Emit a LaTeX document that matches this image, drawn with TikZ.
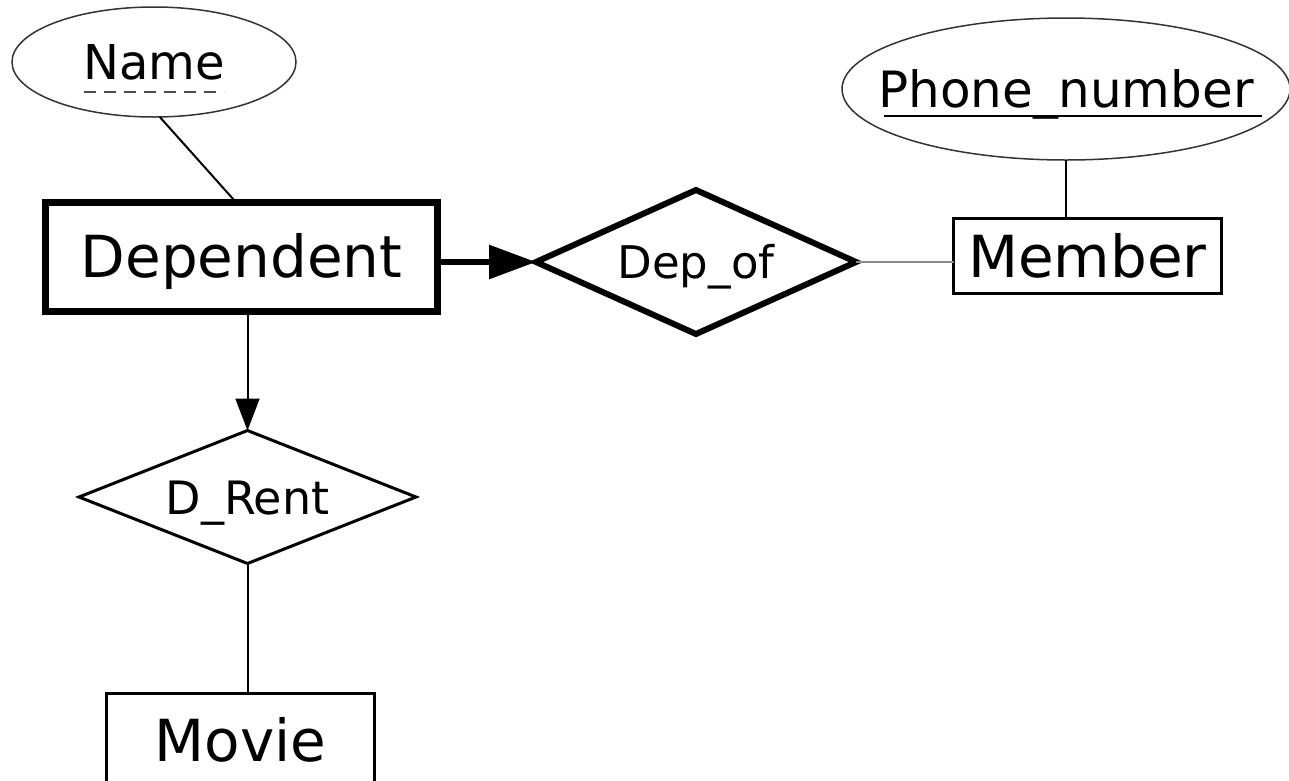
\documentclass[tikz,border=0pt]{standalone}
\usepackage{fontspec}
\setmainfont{DejaVu Sans}
\usetikzlibrary{shapes.geometric, arrows.meta, positioning}
\tikzset{
    every node/.style={inner sep=0pt, outer sep=0pt}, % shapes are sized by hand
    entity/.style={draw, rectangle, line width=3pt, font=\fontsize{58}{60}\selectfont, text height=42pt, text depth=0pt}, % plain entity set
    weakentity/.style={entity, line width=7pt}, % weak entity set, heavy border
    relation/.style={draw, diamond, aspect=2.2, line width=3pt, text depth=0pt}, % relationship set
    idrelation/.style={relation, line width=6pt}, % identifying relationship
    attribute/.style={draw=black!80, ellipse, line width=1.5pt, text depth=0pt}, % attribute
    link/.style={line width=2pt}, % plain connector
    toone/.style={link, -{Triangle[length=32pt, width=24pt]}}, % many-to-one arrow
}

\begin{document}
\begin{tikzpicture}[x=1pt, y=-1pt]
    \useasboundingbox (0,0) rectangle (1289,780);
    \clip (0,0) rectangle (1289,780);

    \node[weakentity, minimum width=392pt, minimum height=109pt] (dep) at (241.5,256.5) {Dependent};
    \node[entity, minimum width=268pt, minimum height=75pt] (mem) at (1087.5,256) {Member};
    \node[entity, minimum width=268pt, minimum height=94pt] (movie) at (240.5,740.5) {Movie};

    \node[idrelation, minimum width=320pt, minimum height=144pt, font=\fontsize{45}{47}\selectfont, text height=33pt] (dof) at (696,262) {Dep\_of};
    \node[relation, minimum width=337pt, minimum height=133pt, font=\fontsize{46}{48}\selectfont, text height=34pt] (drent) at (247.5,497) {D\_Rent};

    \node[attribute, minimum width=284pt, minimum height=110pt, font=\fontsize{48}{50}\selectfont, text height=35pt] (name) at (154,62) {\makebox[0pt]{Name}};
    \node[attribute, minimum width=448pt, minimum height=142pt, font=\fontsize{50}{52}\selectfont, text height=36.5pt] (phone) at (1066,89) {\makebox[0pt]{Phone\_number}};

    % key underlines
    \draw[line width=2.5pt, black!70, dash pattern=on 12pt off 8pt] ([shift={(-70,30)}]name.center) -- ++(140,0);
    \draw[line width=2pt] ([shift={(-182,27)}]phone.center) -- ++(378,0);

    \draw[link] (name.-84) -- (dep.96);
    \draw[line width=6pt, -{Triangle[length=47pt, width=33pt]}] (dep.east |- dof.west) -- (dof.west);
    \draw[link, black!45] (dof.east) -- (dof.east -| mem.west);
    \draw[link] (phone.south) -- (phone.south |- mem.north);
    \draw[toone] (drent.north |- dep.south) -- (drent.north);
    \draw[link] (drent.south) -- (drent.south |- movie.north);
\end{tikzpicture}
\end{document}
